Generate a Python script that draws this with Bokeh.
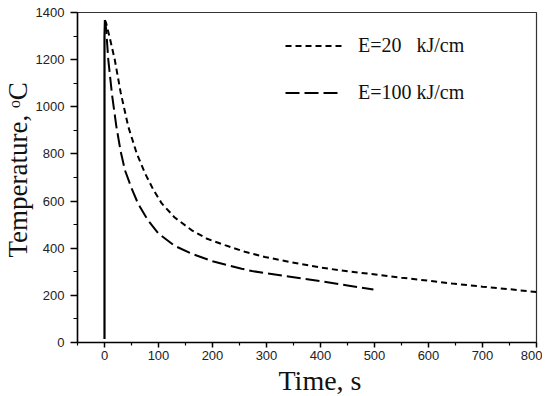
from bokeh.plotting import figure
from bokeh.models import Range1d, FixedTicker, Legend, LegendItem, Title
from bokeh.embed import file_html
from bokeh.resources import INLINE

# heating (common to both runs)
heat_t = [0, 0, 0.8]
heat_T = [15, 1300, 1368]

# E = 20 kJ/cm (short dash)
e20_t = [0.8, 3, 10, 19, 30, 44, 60, 75, 90, 106, 130, 161, 190, 223, 260, 297,
         347, 400, 450, 489, 550, 600, 644, 700, 750, 800]
e20_T = [1368, 1355, 1290, 1200, 1060, 916, 800, 718, 650, 590, 530, 477, 440, 413,
         385, 363, 340, 318, 302, 292, 275, 262, 250, 237, 226, 214]

# E = 100 kJ/cm (long dash)
e100_t = [0.8, 3, 7, 14, 22, 30, 38, 50, 62, 80, 100, 130, 161, 200, 254, 273,
          347, 400, 450, 498]
e100_T = [1368, 1330, 1200, 1050, 916, 810, 730, 655, 590, 520, 462, 410, 377, 345,
          313, 303, 278, 260, 242, 225]

x_ticks = [0, 100, 200, 300, 400, 500, 600, 700, 800]
y_ticks = [0, 200, 400, 600, 800, 1000, 1200, 1400]
x_minor = [-50, 50, 150, 250, 350, 450, 550, 650, 750]
y_minor = [100, 300, 500, 700, 900, 1100, 1300]

p = figure(width=542, height=395, output_backend="svg", toolbar_location=None,
           x_range=Range1d(-50, 800), y_range=Range1d(0, 1400),
           min_border_left=77, min_border_right=6, min_border_top=12,
           min_border_bottom=53)
p.xgrid.visible = False
p.ygrid.visible = False
p.outline_line_color = "#333333"
p.outline_line_width = 1.2

for ax, ticks, minor in ((p.xaxis[0], x_ticks, x_minor), (p.yaxis[0], y_ticks, y_minor)):
    ax.ticker = FixedTicker(ticks=ticks, minor_ticks=minor)
    ax.axis_line_width = 1.5
    ax.major_tick_line_width = 1.5
    ax.minor_tick_line_width = 1.2
    ax.major_tick_in = 0
    ax.minor_tick_in = 0
    ax.major_label_text_font = "Liberation Sans"
    ax.major_label_text_font_size = "13px"
    ax.major_label_text_color = "#222222"

p.xaxis.major_tick_out = 5
p.xaxis.minor_tick_out = 3
p.xaxis.major_label_standoff = 3
p.yaxis.major_tick_out = 7
p.yaxis.minor_tick_out = 4
p.yaxis.major_label_standoff = 6

# axis titles, slightly off-centre as in the reference
p.add_layout(Title(text="Time, s", align="left", offset=201, standoff=0,
                   text_font="Liberation Serif", text_font_size="28px",
                   text_font_style="normal", text_color="#111111"), "below")
p.add_layout(Title(text="Temperature, \u1d52C", align="left", offset=85, standoff=0,
                   text_font="Liberation Serif", text_font_size="27px",
                   text_font_style="normal", text_color="#111111"), "left")

p.line(heat_t, heat_T, line_color="black", line_width=2.2)
r20 = p.line(e20_t, e20_T, line_color="black", line_width=2, line_dash="6 4")
r100 = p.line(e100_t, e100_T, line_color="black", line_width=2, line_dash="14 5")

leg = Legend(items=[LegendItem(label="E=20   kJ/cm", renderers=[r20]),
                    LegendItem(label="E=100 kJ/cm", renderers=[r100])],
             location=(208, 238), padding=0, margin=0, spacing=24,
             glyph_width=57, glyph_height=23, label_height=23, label_standoff=16,
             label_text_font="Liberation Serif", label_text_font_size="20px",
             label_text_color="#111111",
             border_line_alpha=0, background_fill_alpha=0)
p.add_layout(leg)

open("out.html", "w").write(file_html(p, INLINE))
